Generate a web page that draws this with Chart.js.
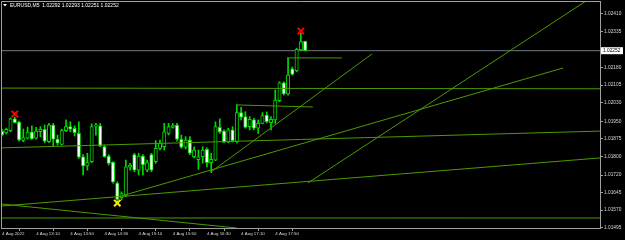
<!DOCTYPE html>
<html><head><meta charset="utf-8">
<script src="https://cdn.jsdelivr.net/npm/chart.js@4.4.0/dist/chart.umd.min.js"></script>
<style>html,body{margin:0;padding:0;background:#000;overflow:hidden}#wrap{width:625px;height:240px;position:relative}</style>
</head><body><div id="wrap"><canvas id="c" width="625" height="240"></canvas></div>
<script>
// ---- data ----
const chartTitle = 'EURUSD,M5  1.02292 1.02293 1.02251 1.02252';
const candleOpen = [1.01908,1.01900,1.01910,1.01960,1.01947,1.01868,1.01878,1.01904,1.01878,1.01905,1.01916,1.01863,1.01934,1.01874,1.01851,1.01910,1.01927,1.01920,1.01898,1.01798,1.01759,1.01777,1.01930,1.01930,1.01842,1.01801,1.01774,1.01685,1.01622,1.01634,1.01754,1.01807,1.01741,1.01801,1.01741,1.01807,1.01777,1.01834,1.01841,1.01898,1.01924,1.01934,1.01873,1.01839,1.01870,1.01798,1.01786,1.01798,1.01830,1.01773,1.01784,1.01924,1.01908,1.01862,1.01913,1.01862,1.01987,1.01970,1.01927,1.01956,1.01920,1.01941,1.01977,1.01944,1.01956,1.02038,1.02115,1.02067,1.02174,1.02166,1.02255,1.02292];
const candleHigh = [1.01917,1.01921,1.01964,1.01968,1.01951,1.01917,1.01925,1.01930,1.01924,1.01927,1.01934,1.01941,1.01941,1.01891,1.01916,1.01956,1.01948,1.01930,1.01948,1.01807,1.01813,1.01939,1.01941,1.01941,1.01848,1.01807,1.01777,1.01691,1.01648,1.01784,1.01770,1.01813,1.01813,1.01807,1.01784,1.01813,1.01867,1.01870,1.01941,1.01941,1.01941,1.01941,1.01891,1.01884,1.01884,1.01841,1.01827,1.01841,1.01836,1.01813,1.01948,1.01960,1.01913,1.01920,1.01927,1.02020,1.02010,1.01991,1.01970,1.01963,1.01956,1.01987,1.01990,1.01970,1.02084,1.02119,1.02119,1.02221,1.02182,1.02262,1.02327,1.02293];
const candleLow = [1.01887,1.01895,1.01905,1.01943,1.01865,1.01862,1.01874,1.01872,1.01873,1.01884,1.01858,1.01858,1.01844,1.01848,1.01848,1.01905,1.01905,1.01887,1.01791,1.01720,1.01741,1.01773,1.01891,1.01841,1.01796,1.01763,1.01685,1.01607,1.01613,1.01627,1.01741,1.01734,1.01720,1.01720,1.01734,1.01734,1.01770,1.01827,1.01827,1.01891,1.01920,1.01865,1.01834,1.01831,1.01807,1.01793,1.01744,1.01770,1.01755,1.01730,1.01781,1.01898,1.01858,1.01858,1.01861,1.01857,1.01956,1.01920,1.01913,1.01913,1.01898,1.01939,1.01943,1.01913,1.01941,1.02034,1.02062,1.02062,1.02148,1.02162,1.02252,1.02251];
const candleClose = [1.01892,1.01915,1.01960,1.01944,1.01870,1.01880,1.01904,1.01874,1.01908,1.01915,1.01865,1.01934,1.01873,1.01856,1.01910,1.01927,1.01916,1.01901,1.01796,1.01759,1.01773,1.01927,1.01932,1.01844,1.01798,1.01770,1.01690,1.01616,1.01641,1.01755,1.01763,1.01741,1.01801,1.01763,1.01773,1.01741,1.01834,1.01857,1.01905,1.01927,1.01931,1.01873,1.01839,1.01870,1.01813,1.01827,1.01798,1.01827,1.01773,1.01787,1.01927,1.01904,1.01860,1.01913,1.01867,1.01987,1.01967,1.01924,1.01958,1.01920,1.01941,1.01974,1.01948,1.01958,1.02041,1.02115,1.02067,1.02148,1.02151,1.02258,1.02291,1.02252];
const xTickIdx = [0,8,16,24,32,40,48,56,64];
const xTickLabels = ['4 Aug 2022','4 Aug 13:10','4 Aug 13:50','4 Aug 14:30','4 Aug 15:10','4 Aug 15:50','4 Aug 16:30','4 Aug 17:10','4 Aug 17:50'];
const yTickValues = [1.02410,1.02335,1.02180,1.02105,1.02030,1.01950,1.01875,1.01800,1.01720,1.01645,1.01570,1.01495];
const lastPrice = 1.02252;
const upMarkIdx = [3,70];
const upMarkPrice = [1.01981,1.02336];
const downMarkIdx = [27];
const downMarkPrice = [1.01600];
const lineStartIdx   = [-0.23, -0.23, -0.23, 27.17, 48.95, 71.66, -0.23, -0.23, 66.74, 54.8];
const lineStartPrice = [1.02092,1.01836,1.01587,1.01626,1.01733,1.01686,1.01596,1.01536,1.02221,1.02020];
const lineEndIdx     = [140.05,140.05,140.05,131.4, 86.65,136.8, 55.0, 140.05, 79.6, 72.8];
const lineEndPrice   = [1.02089,1.01908,1.01793,1.02178,1.02238,1.02465,1.01493,1.01536,1.02221,1.02011];

// ---- build ----
const GREEN = '#00dc00';
const LINE = '#4c9a00';
const idx = candleOpen.map((_, i) => i);
const wickData = idx.map(i => ({x: i, y: [candleLow[i], candleHigh[i]]}));
const bodyData = idx.map(i => ({x: i, y: [candleOpen[i], candleClose[i]]}));
const bodyFill = idx.map(i => candleClose[i] >= candleOpen[i] ? '#000000' : '#ffffff');

const datasets = [];
datasets.push({type: 'line', data: [{x: -1, y: lastPrice}, {x: 200, y: lastPrice}], borderColor: '#6f7880', borderWidth: 1, pointRadius: 0, order: 10});
lineStartIdx.forEach((s, k) => {
  datasets.push({type: 'line', data: [{x: s, y: lineStartPrice[k]}, {x: lineEndIdx[k], y: lineEndPrice[k]}],
    borderColor: LINE, borderWidth: 1, pointRadius: 0, order: 1});
});
datasets.push({type: 'bar', data: wickData, backgroundColor: GREEN, borderWidth: 0, barThickness: 1, grouped: false, order: 6});
datasets.push({type: 'bar', data: bodyData, backgroundColor: bodyFill, borderColor: GREEN, borderWidth: 1, borderSkipped: false, barThickness: 3.4, minBarLength: 1, grouped: false, order: 5});
datasets.push({type: 'line', data: upMarkIdx.map((x, k) => ({x, y: upMarkPrice[k]})), showLine: false, pointStyle: 'crossRot', pointRadius: 4.5, pointBorderWidth: 2, pointBorderColor: '#ff0000', pointBackgroundColor: '#ff0000', order: 0});
datasets.push({type: 'line', data: downMarkIdx.map((x, k) => ({x, y: downMarkPrice[k]})), showLine: false, pointStyle: 'crossRot', pointRadius: 4.5, pointBorderWidth: 2, pointBorderColor: '#ffee00', pointBackgroundColor: '#ffee00', order: 0});

const FONT = 'Liberation Sans, Arial, sans-serif';
const noPad = s => { s.paddingLeft = 0; s.paddingRight = 0; s.paddingTop = 0; s.paddingBottom = 0; };
const deco = {
  id: 'deco',
  beforeDraw(chart) {
    const c = chart.ctx; c.save(); c.fillStyle = '#000'; c.fillRect(0, 0, chart.width, chart.height); c.restore();
  },
  afterDraw(chart) {
    const c = chart.ctx, a = chart.chartArea;
    c.save();
    c.strokeStyle = '#a0a0a0'; c.lineWidth = 1;
    c.beginPath(); c.moveTo(a.left + 0.5, a.bottom); c.lineTo(a.left + 0.5, a.top + 0.5); c.lineTo(a.right, a.top + 0.5); c.stroke();
    // title
    c.fillStyle = '#ffffff';
    c.beginPath(); c.moveTo(3, 4); c.lineTo(7, 4); c.lineTo(5, 6.5); c.closePath(); c.fill();
    c.font = '5px ' + FONT; c.textBaseline = 'middle'; c.textAlign = 'left';
    c.fillText(chartTitle, 10, 5.5);
    // last price label
    const y = chart.scales.y.getPixelForValue(lastPrice);
    c.fillStyle = '#ffffff'; c.fillRect(a.right + 1, y - 3.5, 22, 7);
    c.fillStyle = '#000000'; c.font = '4.8px ' + FONT;
    c.fillText(lastPrice.toFixed(5), a.right + 3, y);
    c.restore();
  }
};

new Chart(document.getElementById('c'), {
  type: 'bar',
  data: {datasets},
  options: {
    responsive: false, animation: false, events: [],
    layout: {autoPadding: false, padding: {top: 1, left: 1, right: 0, bottom: 0}},
    plugins: {legend: {display: false}, tooltip: {enabled: false}, title: {display: false}},
    scales: {
      x: {
        type: 'linear', min: -0.23, max: 140.05, offset: false,
        afterBuildTicks: s => { s.ticks = xTickIdx.map(v => ({value: v})); },
        afterFit: s => { s.height = 12; noPad(s); },
        grid: {drawOnChartArea: false, drawTicks: true, tickLength: 3, color: '#a0a0a0'},
        border: {display: true, color: '#a0a0a0'},
        ticks: {autoSkip: false, maxRotation: 0, minRotation: 0, align: 'start', padding: 0, color: '#d8d8d8', font: {size: 4.4, family: FONT},
          callback: (v, i) => xTickLabels[i]}
      },
      y: {
        type: 'linear', position: 'right', min: 1.014932, max: 1.024647,
        afterBuildTicks: s => { s.ticks = yTickValues.map(v => ({value: v})); },
        afterFit: s => { s.width = 25; noPad(s); },
        grid: {drawOnChartArea: false, drawTicks: true, tickLength: 3, color: '#a0a0a0'},
        border: {display: true, color: '#a0a0a0'},
        ticks: {autoSkip: false, padding: 1, color: '#d8d8d8', font: {size: 4.8, family: FONT},
          callback: v => Number(v).toFixed(5)}
      }
    }
  },
  plugins: [deco]
});
</script></body></html>
